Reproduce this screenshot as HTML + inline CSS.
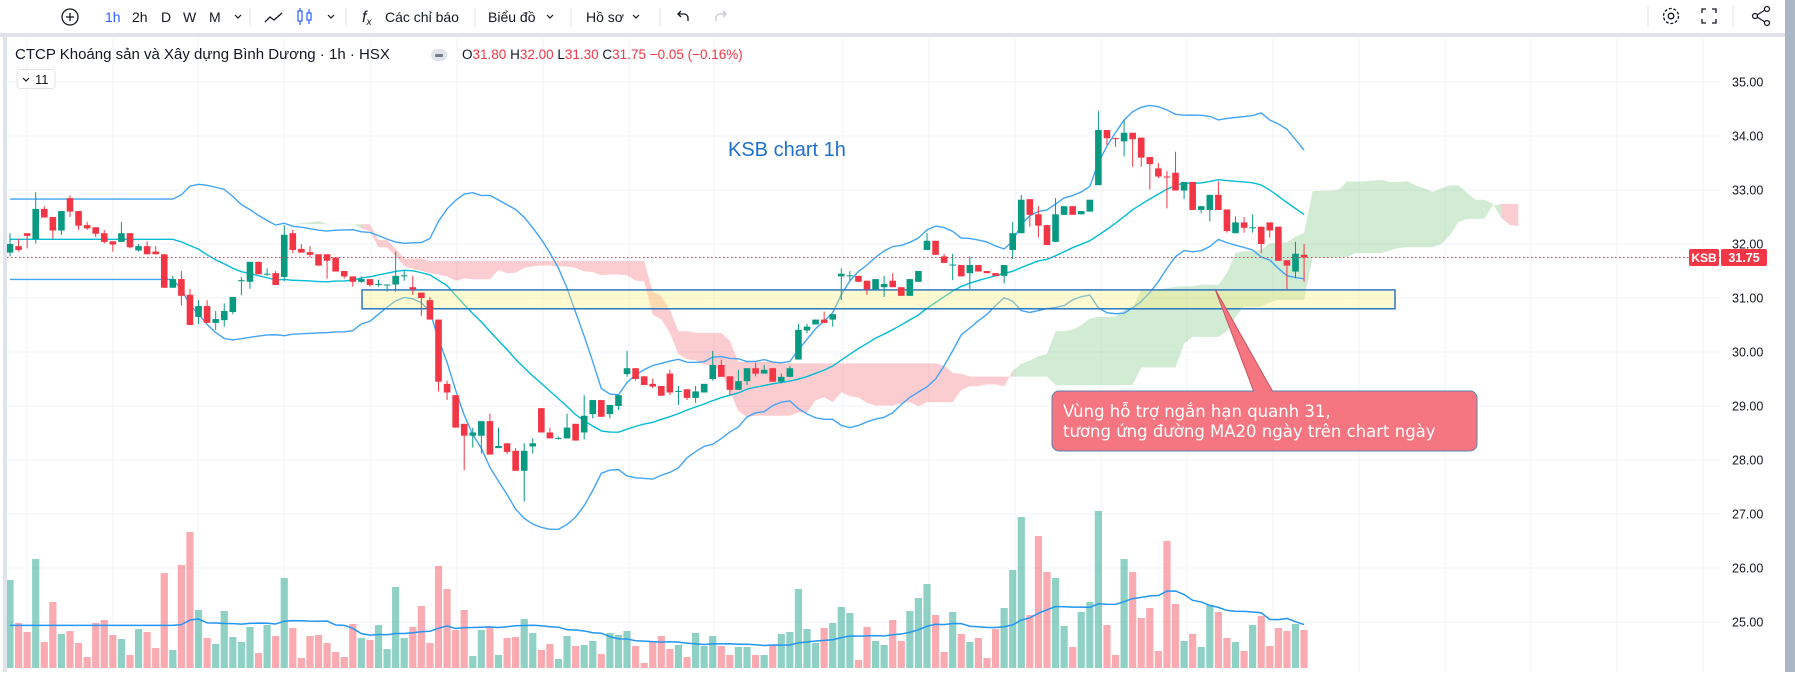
<!DOCTYPE html>
<html><head><meta charset="utf-8">
<style>
html,body{margin:0;padding:0;background:#fff;}
body{width:1795px;height:672px;overflow:hidden;position:relative;font-family:"Liberation Sans","DejaVu Sans",sans-serif;}
svg text{font-family:"Liberation Sans","DejaVu Sans",sans-serif;}
</style></head>
<body>
<svg id="chart" width="1795" height="672" viewBox="0 0 1795 672" xmlns="http://www.w3.org/2000/svg">
  <defs><clipPath id="plotclip"><rect x="7" y="38" width="1713" height="634"/></clipPath></defs>
  <rect x="0" y="0" width="1795" height="672" fill="#ffffff"/>
  <g font-size="14" fill="#131722">
    <g><circle cx="70" cy="17" r="8" fill="none" stroke="#131722" stroke-width="1.3"/><path d="M66 17h8M70 13v8" stroke="#131722" stroke-width="1.3"/></g>
    <text x="105" y="22" fill="#2962ff">1h</text>
    <text x="132" y="22">2h</text>
    <text x="161" y="22">D</text>
    <text x="183" y="22">W</text>
    <text x="209" y="22">M</text>
    <path d="M235 15l3 3 3-3" fill="none" stroke="#131722" stroke-width="1.2"/>
    <line x1="250" y1="8" x2="250" y2="27" stroke="#e0e3eb"/>
    <path d="M265 22l5-5 4 3 8-7" fill="none" stroke="#131722" stroke-width="1.3"/>
    <g stroke="#2962ff" fill="none" stroke-width="1.2"><rect x="298" y="11" width="4" height="10"/><path d="M300 8v3M300 21v4"/><rect x="307" y="13" width="4" height="7"/><path d="M309 9v4M309 20v4"/></g>
    <path d="M328 15l3 3 3-3" fill="none" stroke="#131722" stroke-width="1.2"/>
    <line x1="346" y1="8" x2="346" y2="27" stroke="#e0e3eb"/>
    <text x="362" y="22" font-style="italic" font-size="16">f<tspan font-size="10" dy="3">x</tspan></text>
    <text x="385" y="22">Các chỉ báo</text>
    <line x1="475" y1="8" x2="475" y2="27" stroke="#e0e3eb"/>
    <text x="488" y="22">Biểu đồ</text>
    <path d="M547 15l3 3 3-3" fill="none" stroke="#131722" stroke-width="1.2"/>
    <line x1="571" y1="8" x2="571" y2="27" stroke="#e0e3eb"/>
    <text x="586" y="22">Hồ sơ</text>
    <path d="M633 15l3 3 3-3" fill="none" stroke="#131722" stroke-width="1.2"/>
    <line x1="660" y1="8" x2="660" y2="27" stroke="#e0e3eb"/>
    <path d="M688 21v-3a4 4 0 0 0-4-4h-6M681 11l-3 3 3 3" fill="none" stroke="#131722" stroke-width="1.3"/>
    <path d="M716 21v-3a4 4 0 0 1 4-4h6M723 11l3 3-3 3" fill="none" stroke="#c5c8d0" stroke-width="1.3"/>
    <line x1="1648" y1="6" x2="1648" y2="27" stroke="#e0e3eb"/>
    <g><circle cx="1671" cy="16" r="7.5" fill="none" stroke="#131722" stroke-width="1.3" stroke-dasharray="3 1.7"/><circle cx="1671" cy="16" r="2.8" fill="none" stroke="#131722" stroke-width="1.3"/></g>
    <path d="M1702 13v-4h4M1712 9h4v4M1716 19v4h-4M1706 23h-4v-4" fill="none" stroke="#131722" stroke-width="1.3"/>
    <line x1="1733" y1="6" x2="1733" y2="27" stroke="#e0e3eb"/>
    <g fill="none" stroke="#131722" stroke-width="1.2"><circle cx="1755" cy="16" r="2.5"/><circle cx="1767" cy="9" r="2.5"/><circle cx="1767" cy="23" r="2.5"/><path d="M1757 15l8-5M1757 17l8 5"/></g>
  </g>
  <rect x="0" y="33" width="1795" height="4" fill="#e0e3eb"/>
  <rect x="3" y="37" width="4" height="635" fill="#dfe3ec"/>
  <rect x="1785" y="0" width="10" height="672" fill="#a9b6c4"/>
  <g id="grid"></g>
  <g id="plot" clip-path="url(#plotclip)"></g>
  <g id="axis"></g>
  <text x="15" y="59" font-size="15" fill="#131722">CTCP Khoáng sản và Xây dựng Bình Dương · 1h · HSX</text>
  <rect x="431" y="49" width="16" height="12" rx="6" fill="#e0e3eb"/>
  <rect x="435" y="54" width="8" height="3" rx="1" fill="#787b86"/>
  <text x="462" y="59" font-size="13.5" fill="#f23645"><tspan fill="#131722">O</tspan>31.80 <tspan fill="#131722">H</tspan>32.00 <tspan fill="#131722">L</tspan>31.30 <tspan fill="#131722">C</tspan>31.75 −0.05 (−0.16%)</text>
  <g><rect x="17" y="69.5" width="38" height="19" rx="3" fill="#fff" stroke="#e0e3eb"/><path d="M23 78l3 3 3-3" fill="none" stroke="#131722" stroke-width="1.2"/><text x="35" y="84" font-size="13" fill="#131722">11</text></g>
</svg>
<script>
const opens=[31.84,31.96,32.20,32.09,32.65,32.50,32.25,32.85,32.61,32.35,32.31,32.20,32.05,32.04,32.20,31.88,31.96,31.86,31.81,31.19,31.35,31.06,30.65,30.85,30.54,30.59,30.74,31.31,31.30,31.67,31.45,31.46,31.39,32.20,31.91,31.85,31.81,31.81,31.75,31.50,31.40,31.30,31.35,31.25,31.25,31.25,31.41,31.20,31.10,30.96,30.60,29.41,29.20,28.67,28.45,28.45,28.72,28.22,28.31,28.17,27.80,28.25,28.96,28.51,28.40,28.40,28.67,28.51,28.85,29.11,28.85,29.00,29.59,29.70,29.55,29.41,29.37,29.60,29.27,29.31,29.15,29.25,29.50,29.76,29.55,29.30,29.46,29.70,29.60,29.70,29.45,29.54,29.86,30.40,30.51,30.60,30.60,31.40,31.41,31.41,31.32,31.16,31.20,31.32,31.20,31.04,31.30,31.89,32.06,31.77,31.61,31.61,31.46,31.61,31.50,31.46,31.41,31.89,32.20,32.83,32.55,32.35,32.04,32.54,32.70,32.55,32.60,33.09,34.11,33.96,33.90,34.06,33.97,33.61,33.40,33.25,33.32,32.99,33.15,32.63,32.63,32.91,32.64,32.20,32.40,32.30,32.32,32.40,32.32,31.70,31.49,31.80];
const highs=[32.20,32.10,32.20,32.96,32.70,32.50,32.61,32.90,32.61,32.41,32.31,32.26,32.05,32.41,32.20,32.00,32.05,31.96,31.81,31.41,31.50,31.17,30.96,30.96,30.76,30.90,31.02,31.39,31.67,31.67,31.55,31.50,32.35,32.26,32.00,31.96,31.81,31.81,31.75,31.50,31.40,31.40,31.35,31.34,31.25,31.86,31.50,31.41,31.10,31.02,30.60,29.47,29.20,28.67,28.60,28.72,28.86,28.60,28.31,28.22,28.31,28.40,28.96,28.60,28.43,28.86,28.67,29.20,29.11,29.11,29.02,29.20,30.02,29.70,29.55,29.51,29.37,29.67,29.37,29.31,29.37,29.41,30.02,29.86,29.55,29.67,29.70,29.80,29.76,29.70,29.60,29.74,30.52,30.52,30.60,30.75,30.70,31.55,31.50,31.41,31.32,31.35,31.41,31.46,31.20,31.35,31.50,32.20,32.06,31.82,31.82,31.61,31.77,31.61,31.50,31.46,31.61,32.41,32.91,32.83,32.70,32.35,32.85,32.70,32.70,32.61,32.82,34.46,34.11,33.97,34.30,34.06,33.97,33.61,33.50,33.35,33.71,33.15,33.15,32.70,32.91,33.16,32.64,32.51,32.50,32.55,32.32,32.40,32.32,31.70,32.04,32.00];
const lows=[31.77,31.86,31.92,32.01,32.49,32.10,32.17,32.50,32.26,32.26,32.13,32.01,31.86,32.04,31.92,31.86,31.81,31.81,31.19,31.19,30.86,30.50,30.52,30.54,30.41,30.47,30.70,31.05,31.17,31.44,31.41,31.24,31.31,31.83,31.84,31.75,31.60,31.36,31.49,31.36,31.21,31.28,31.21,31.21,31.12,31.12,31.32,31.06,30.67,30.60,29.27,29.11,28.60,27.81,28.23,28.12,28.10,28.22,28.11,27.80,27.23,28.12,28.51,28.40,28.38,28.40,28.36,28.38,28.77,28.80,28.77,28.93,29.54,29.47,29.39,29.33,29.19,29.20,29.02,29.11,29.06,29.25,29.47,29.54,29.20,29.30,29.39,29.55,29.60,29.45,29.42,29.54,29.86,30.35,30.51,30.53,30.47,30.96,31.32,31.30,31.06,31.16,31.02,31.20,31.04,31.04,31.30,31.89,31.80,31.65,31.33,31.40,31.17,31.49,31.46,31.41,31.27,31.72,32.20,32.32,32.12,31.98,32.04,32.54,32.54,32.55,32.60,33.09,33.83,33.80,33.62,33.43,33.43,33.01,33.22,32.66,32.99,32.83,32.63,32.57,32.42,32.63,32.21,32.20,32.21,32.21,31.83,32.12,31.69,31.16,31.37,31.30];
const closes=[32.00,31.89,32.15,32.65,32.49,32.25,32.61,32.60,32.34,32.29,32.19,32.04,31.99,32.20,31.94,31.96,31.81,31.81,31.19,31.35,31.04,30.50,30.85,30.54,30.61,30.76,31.02,31.33,31.67,31.44,31.45,31.24,32.17,31.89,31.84,31.80,31.60,31.69,31.49,31.40,31.30,31.35,31.24,31.26,31.25,31.41,31.42,31.16,31.00,30.60,29.45,29.25,28.60,28.45,28.51,28.72,28.10,28.26,28.15,27.80,28.17,28.31,28.51,28.40,28.41,28.60,28.36,28.82,29.11,28.80,29.02,29.20,29.70,29.50,29.39,29.36,29.19,29.25,29.28,29.15,29.27,29.41,29.76,29.54,29.30,29.46,29.70,29.60,29.67,29.45,29.54,29.70,30.41,30.47,30.60,30.54,30.70,31.45,31.42,31.30,31.16,31.35,31.26,31.20,31.04,31.35,31.50,32.06,31.80,31.65,31.62,31.40,31.61,31.49,31.46,31.41,31.61,32.20,32.82,32.54,32.34,31.98,32.55,32.70,32.54,32.61,32.82,34.11,33.96,33.95,34.06,33.94,33.60,33.48,33.25,33.24,32.99,33.15,32.63,32.70,32.91,32.63,32.24,32.40,32.30,32.31,32.00,32.25,31.69,31.60,31.82,31.75];
const volumes=[264,135,108,327,78,198,102,111,75,33,135,144,99,87,39,117,108,60,285,54,309,408,174,90,72,171,93,78,123,45,129,96,270,120,30,96,99,75,48,33,132,90,84,129,57,243,90,123,186,75,306,237,
114,174,36,114,123,39,90,93,147,105,54,72,27,96,66,69,81,42,105,99,111,66,15,81,96,57,69,33,105,66,96,66,39,63,63,39,39,69,102,108,237,117,75,120,135,183,165,24,123,81,69,
144,81,171,210,252,159,48,168,102,78,90,30,117,180,294,453,159,396,288,270,126,63,168,198,471,129,39,327,288,150,180,51,381,192,81,102,63,189,168,90,78,51,129,156,66,120,111,132,114];
const priceTicks=[35,34,33,32,31,30,29,28,27,26,25];
const priceTickLabels=["35.00","34.00","33.00","32.00","31.00","30.00","29.00","28.00","27.00","26.00","25.00"];
const lastPrice=31.75;
const supportZone=[31.15,30.80];

const NS="http://www.w3.org/2000/svg";
const plot=document.getElementById('plot'),grid=document.getElementById('grid'),axis=document.getElementById('axis'),svg=document.getElementById('chart');
const X0=10,STEP=8.57;
function xAt(i){return X0+i*STEP;}
function yP(p){return 82+(35-p)*54;}
function yV(v){return 668-v/3;}
function mk(tag,attrs,parent){const e=document.createElementNS(NS,tag);for(const k in attrs)e.setAttribute(k,attrs[k]);parent.appendChild(e);return e;}

const vgrid=[27,113,198,284,371,457,543,629,714,843,929,1015,1101,1187,1273,1359,1445,1531,1617,1703];
vgrid.forEach(gx=>{const l=mk('line',{x1:gx,y1:38,x2:gx,y2:672,stroke:'#f0f3fa','stroke-width':1},grid);

});
priceTicks.forEach((p,k)=>{const y=yP(p);
const l=mk('line',{x1:7,y1:y,x2:1720,y2:y,stroke:'#f0f3fa','stroke-width':1},grid);


const t=mk('text',{x:1732,y:y+4.5,'font-size':12.5,fill:'#131722'},axis);
t.textContent=priceTickLabels[k];

});

const N=closes.length;
function midRange(j,len){let h=-1e9,l=1e9;for(let k=Math.max(0,j-len+1);k<=j;k++){h=Math.max(h,highs[k]);l=Math.min(l,lows[k]);}return (h+l)/2;}
const SHIFT=25;const spanA=[],spanB=[];
for(let j=0;j<N;j++){spanA.push((midRange(j,9)+midRange(j,26))/2);spanB.push(midRange(j,52));}
const cloud=mk('g',{},plot);


// build runs of same color into single polygons
let runs=[];let cur=null;
for(let j=0;j<N;j++){const g=spanA[j]>=spanB[j];if(!cur||cur.g!==g){if(cur)cur.idx.push(j);cur={g:g,idx:[]};runs.push(cur);}cur.idx.push(j);}
runs.forEach(r=>{const top=r.idx.map(j=>`${xAt(j+SHIFT)},${yP(spanA[j])}`);const bot=r.idx.slice().reverse().map(j=>`${xAt(j+SHIFT)},${yP(spanB[j])}`);
const pg=mk('polygon',{points:top.concat(bot).join(' '),fill:r.g?'rgba(76,175,80,0.25)':'rgba(242,54,69,0.25)',stroke:'none'},cloud);

});

const vg=mk('g',{},plot);


for(let i=0;i<N;i++){const up=closes[i]>=opens[i];
const r=mk('rect',{x:xAt(i)-3.6,y:yV(volumes[i]),width:7.2,height:volumes[i]/3,fill:up?'rgba(8,153,129,0.45)':'rgba(242,54,69,0.42)'},vg);

}
let vpts=[];for(let i=0;i<N;i++){let s=0,c=0;const st=i<19?0:i-19,en=i<19?19:i;for(let k=st;k<=en;k++){s+=volumes[k];c++;}vpts.push(`${xAt(i)},${yV(s/c)}`);}
const vma=mk('polyline',{points:vpts.join(' '),fill:'none',stroke:'#2196f3','stroke-width':1.5},plot);



let up=[],mid=[],lo=[];
for(let i=0;i<N;i++){const st=i<19?0:i-19,en=i<19?19:i;let s=0;for(let k=st;k<=en;k++)s+=closes[k];const m=s/20;let v=0;for(let k=st;k<=en;k++)v+=(closes[k]-m)**2;const sd=Math.sqrt(v/20);
mid.push(`${xAt(i)},${yP(m)}`);up.push(`${xAt(i)},${yP(m+2*sd)}`);lo.push(`${xAt(i)},${yP(m-2*sd)}`);}
[[up,'#42a5f5','bollinger-upper'],[lo,'#42a5f5','bollinger-lower'],[mid,'#00bcd4','bollinger-basis']].forEach(([pts,c,n])=>{
const l=mk('polyline',{points:pts.join(' '),fill:'none',stroke:c,'stroke-width':1.4},plot);

});

const zone=mk('rect',{x:362,y:yP(supportZone[0]),width:1033,height:yP(supportZone[1])-yP(supportZone[0]),fill:'rgba(255,241,118,0.35)',stroke:'#1e6fc2','stroke-width':1.4},plot);



const cg=mk('g',{},plot);


for(let i=0;i<N;i++){const o=opens[i],c=closes[i];const col=c>=o?'#089981':'#f23645';const x=xAt(i);
const w=mk('line',{x1:x,y1:yP(highs[i]),x2:x,y2:yP(lows[i]),stroke:col,'stroke-width':1},cg);


const top=yP(Math.max(o,c)),bh=Math.max(1,yP(Math.min(o,c))-top);
const b=mk('rect',{x:x-3.3,y:top,width:6.6,height:bh,fill:col},cg);

}

const lp=mk('line',{x1:7,y1:yP(lastPrice),x2:1720,y2:yP(lastPrice),stroke:'#f23645','stroke-width':1,'stroke-dasharray':'1.5 2.5'},plot);


const lpy=yP(lastPrice);
const kb=mk('rect',{x:1689,y:lpy-8.5,width:30,height:17,rx:2,fill:'#f23645'},svg);


const kt=mk('text',{x:1704,y:lpy+4.5,'font-size':12,'font-weight':'bold',fill:'#fff','text-anchor':'middle'},svg);kt.textContent='KSB';
const pb=mk('rect',{x:1721,y:lpy-8.5,width:46,height:17,rx:2,fill:'#f23645'},svg);


const pt=mk('text',{x:1744,y:lpy+4.5,'font-size':12.5,'font-weight':'bold',fill:'#fff','text-anchor':'middle'},svg);pt.textContent=lastPrice.toFixed(2);

const ttl=mk('text',{x:728,y:156,'font-size':20,fill:'#1e70d0'},svg);ttl.textContent='KSB chart 1h';


const cal=mk('g',{},svg);


mk('polygon',{points:'1215,289 1254,392 1273,392',fill:'#f57580',stroke:'#c45560','stroke-width':1},cal);
mk('rect',{x:1052,y:391,width:425,height:60,rx:7,fill:'#f57580',stroke:'#5a82b0','stroke-width':1},cal);
mk('polygon',{points:'1252,393 1275,393 1262,385',fill:'#f57580'},cal);
const t1=mk('text',{x:1063,y:417,'font-size':16.5,fill:'#fff'},cal);t1.setAttribute('style','font-family:"DejaVu Sans",sans-serif');t1.textContent='Vùng hỗ trợ ngắn hạn quanh 31,';
const t2=mk('text',{x:1063,y:437,'font-size':16.5,fill:'#fff'},cal);t2.setAttribute('style','font-family:"DejaVu Sans",sans-serif');t2.textContent='tương ứng đường MA20 ngày trên chart ngày';
</script>
</body></html>
